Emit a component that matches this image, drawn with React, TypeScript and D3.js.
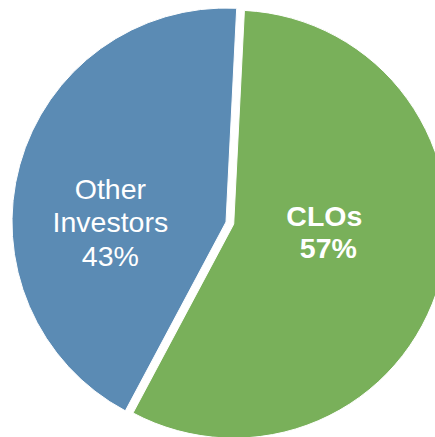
import React from "react";
import * as d3 from "d3";

const categories = ["CLOs", "Other Investors"];
const values = [57, 43];
const labelLines = [["CLOs", "57%"], ["Other", "Investors", "43%"]];
const colors = ["#79b05a", "#5b8bb4"];

export default function App() {
  const W = 435, H = 437;
  const cx = 226, cy = 222, R = 214;
  const explode = [8, 0];
  const pie = d3.pie<number>().sort(null).startAngle(0.05).endAngle(0.05 + 2 * Math.PI);
  const arcs = pie(values);
  const arc = d3.arc<d3.PieArcDatum<number>>().innerRadius(0).outerRadius(R);
  const labelR = [94, 120];
  const lineH = [32.5, 33.5];

  return (
    <svg width={W} height={H} style={{ position: "absolute", left: 0, top: 0, background: "#fff" }}>
      <g transform={`translate(${cx},${cy})`}>
        {arcs.map((a, i) => {
          const mid = (a.startAngle + a.endAngle) / 2;
          const ox = Math.sin(mid) * explode[i];
          const oy = -Math.cos(mid) * explode[i];
          const lx = ox + Math.sin(mid) * labelR[i];
          const ly = i === 0 ? oy + Math.cos(mid) * -labelR[i] - 17 : 0;
          const lines = labelLines[i];
          const startY = ly - ((lines.length - 1) * lineH[i]) / 2 + 10;
          return (
            <g key={categories[i]}>
              <path
                d={arc(a) || ""}
                transform={`translate(${ox},${oy})`}
                fill={colors[i]}
                stroke="#ffffff"
                strokeWidth={1}
              />
              {lines.map((t, j) => (
                <text
                  key={j}
                  x={lx + (i === 0 && j === 1 ? 4 : 0)}
                  y={startY + j * lineH[i]}
                  textAnchor="middle"
                  fill="#ffffff"
                  fontFamily="Liberation Sans, Arial, sans-serif"
                  fontSize={28.5}
                  fontWeight={i === 0 ? "bold" : "normal"}
                >
                  {t}
                </text>
              ))}
            </g>
          );
        })}
      </g>
    </svg>
  );
}
